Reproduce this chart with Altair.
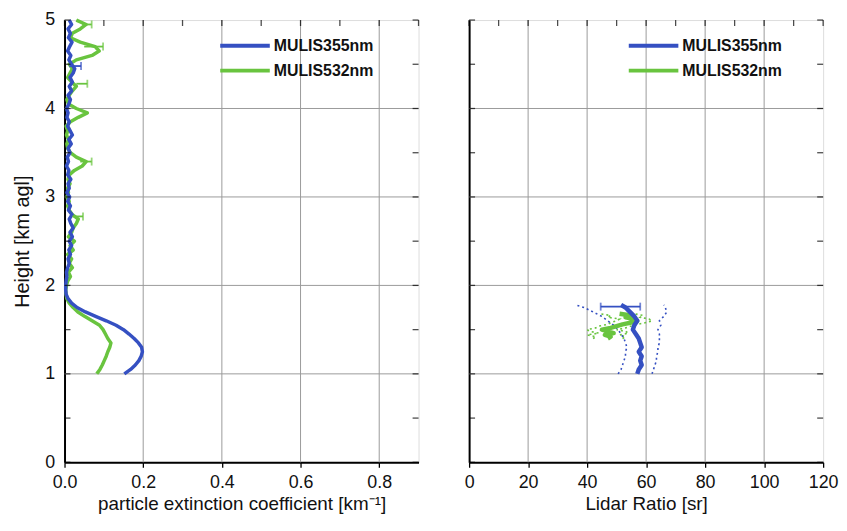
import altair as alt
import pandas as pd

SERIES = ["MULIS355nm", "MULIS532nm"]
COLORS = ["#3550c2", "#69c43f"]

# ---------------- left panel: extinction profiles ----------------
height_km = [1.00, 1.05, 1.10, 1.15, 1.20, 1.25, 1.30, 1.35, 1.40, 1.45,
             1.50, 1.55, 1.60, 1.65, 1.70, 1.75, 1.80, 1.85, 1.90, 1.95,
             2.00, 2.05, 2.10, 2.15, 2.20, 2.25, 2.30, 2.35, 2.40, 2.45,
             2.50, 2.55, 2.60, 2.65, 2.70, 2.75, 2.80, 2.85, 2.90, 2.95,
             3.00, 3.05, 3.10, 3.15, 3.20, 3.25, 3.30, 3.35, 3.40, 3.45,
             3.50, 3.55, 3.60, 3.65, 3.70, 3.75, 3.80, 3.85, 3.90, 3.95,
             4.00, 4.05, 4.10, 4.15, 4.20, 4.25, 4.30, 4.35, 4.40, 4.45,
             4.50, 4.55, 4.60, 4.65, 4.70, 4.75, 4.80, 4.85, 4.90, 4.95,
             5.00]
ext355 = [0.152, 0.168, 0.180, 0.189, 0.195, 0.198, 0.196, 0.188, 0.177, 0.164,
          0.150, 0.131, 0.106, 0.079, 0.053, 0.032, 0.018, 0.009, 0.004, 0.003,
          0.003, 0.004, 0.006, 0.005, 0.008, 0.012, 0.009, 0.015, 0.011, 0.018,
          0.012, 0.020, 0.014, 0.022, 0.016, 0.012, 0.019, 0.010, 0.015, 0.008,
          0.013, 0.006, 0.012, 0.009, 0.016, 0.008, 0.011, 0.005, 0.010, 0.007,
          0.014, 0.009, 0.017, 0.011, 0.020, 0.014, 0.008, 0.012, 0.006, 0.009,
          0.005, 0.011, 0.015, 0.009, 0.018, 0.012, 0.020, 0.014, 0.022, 0.026,
          0.018, 0.011, 0.016, 0.008, 0.013, 0.019, 0.010, 0.015, 0.009, 0.018,
          0.012]
ext532 = [0.082, 0.090, 0.096, 0.101, 0.106, 0.110, 0.115, 0.118, 0.110, 0.104,
          0.098, 0.089, 0.070, 0.051, 0.034, 0.022, 0.012, 0.006, 0.004, 0.003,
          0.005, 0.008, 0.015, 0.010, 0.020, 0.012, 0.018, 0.008, 0.022, 0.014,
          0.025, 0.010, 0.018, 0.022, 0.030, 0.035, 0.020, 0.012, 0.008, 0.012,
          0.006, 0.010, 0.008, 0.014, 0.009, 0.012, 0.025, 0.045, 0.055, 0.030,
          0.015, 0.008, 0.006, 0.010, 0.005, 0.008, 0.004, 0.015, 0.035, 0.058,
          0.030, 0.010, 0.006, 0.012, 0.020, 0.030, 0.018, 0.008, 0.014, 0.020,
          0.012, 0.030, 0.070, 0.088, 0.078, 0.040, 0.015, 0.020, 0.040, 0.055,
          0.030]

err_series = ["MULIS532nm", "MULIS532nm", "MULIS532nm", "MULIS532nm", "MULIS532nm", "MULIS355nm"]
err_h = [4.70, 4.95, 3.40, 4.28, 2.78, 4.48]
err_lo = [0.050, 0.045, 0.040, 0.030, 0.020, 0.012]
err_hi = [0.098, 0.069, 0.069, 0.058, 0.047, 0.042]

# ---------------- right panel: lidar ratio ----------------
lr_h355 = [1.00, 1.05, 1.10, 1.15, 1.20, 1.25, 1.30, 1.35, 1.40, 1.45,
           1.50, 1.55, 1.60, 1.65, 1.70, 1.75, 1.78]
lr355 = [57.0, 57.5, 58.5, 58.0, 58.5, 57.5, 58.5, 58.0, 57.5, 56.5,
         55.5, 56.0, 57.0, 56.0, 54.5, 53.0, 51.5]
lr355_hi = [62.0, 62.5, 63.0, 63.5, 63.5, 64.0, 64.0, 64.5, 64.5, 64.5,
            64.0, 65.0, 64.5, 66.0, 67.0, 66.5, 66.0]
lr355_lo = [50.5, 51.5, 52.0, 52.5, 53.0, 53.0, 53.5, 53.0, 52.5, 51.5,
            50.5, 49.0, 47.0, 45.0, 42.0, 39.0, 36.0]
lr_h532 = [1.40, 1.42, 1.44, 1.46, 1.48, 1.50, 1.52, 1.54, 1.56, 1.58,
           1.60, 1.62, 1.64, 1.66, 1.68]
lr532 = [47, 48, 46, 49, 47, 45, 48, 50, 52, 55, 57, 56, 53, 55, 51]
lr532_lo = [42, 43, 40, 44, 41, 40, 43, 44, 47, 48, 50, 51, 47, 48, 44]
lr532_hi = [52, 53, 51, 54, 53, 50, 53, 55, 57, 60, 62, 61, 58, 59, 56]
lr_err_h = [1.76]
lr_err_lo = [44.6]
lr_err_hi = [58.0]
lr_err_series = ["MULIS355nm"]

# ---------------- axis ticks ----------------
ext_ticks = [0.0, 0.1, 0.2, 0.3, 0.4, 0.5, 0.6, 0.7, 0.8, 0.9]
ext_grid = [0.2, 0.4, 0.6, 0.8]
lr_ticks = [0, 10, 20, 30, 40, 50, 60, 70, 80, 90, 100, 110, 120]
lr_grid = [20, 40, 60, 80, 100]
h_ticks = [0, 0.5, 1, 1.5, 2, 2.5, 3, 3.5, 4, 4.5, 5]
h_major = [0, 1, 2, 3, 4, 5]
h_grid = [1, 2, 3, 4]

W, H = 357, 446
FONT = "Liberation Sans, Arial, sans-serif"

prof = pd.DataFrame({
    "h": height_km * 2,
    "v": ext355 + ext532,
    "s": ["MULIS355nm"] * len(height_km) + ["MULIS532nm"] * len(height_km),
})
errs = pd.DataFrame({"h": err_h, "lo": err_lo, "hi": err_hi, "s": err_series})

lr_main = pd.DataFrame({
    "h": lr_h355 + lr_h532,
    "v": lr355 + lr532,
    "s": ["MULIS355nm"] * len(lr_h355) + ["MULIS532nm"] * len(lr_h532),
})
lr_bounds = pd.DataFrame({
    "h": lr_h355 + lr_h355 + lr_h532 + lr_h532,
    "v": lr355_hi + lr355_lo + lr532_hi + lr532_lo,
    "s": ["MULIS355nm"] * (2 * len(lr_h355)) + ["MULIS532nm"] * (2 * len(lr_h532)),
    "b": ["hi355"] * len(lr_h355) + ["lo355"] * len(lr_h355)
         + ["hi532"] * len(lr_h532) + ["lo532"] * len(lr_h532),
})
lr_errs = pd.DataFrame({"h": lr_err_h, "lo": lr_err_lo, "hi": lr_err_hi, "s": lr_err_series})

color_scale = alt.Scale(domain=SERIES, range=COLORS)
ycommon = alt.Scale(domain=[0, 5], nice=False, zero=False)
series_color = dict(zip(SERIES, COLORS))


def panel(xdomain, xticks, xgrid, xtitle, label_expr, show_y, main_df, bounds_df, err_df,
          main_width, legend_x, both_caps):
    xs = alt.Scale(domain=xdomain, nice=False, zero=False)
    xaxis = alt.Axis(values=xticks, labelExpr=label_expr, title=xtitle, grid=False,
                     tickSize=5, tickColor="black", tickWidth=1.3, domainColor="black",
                     domainWidth=2, labelFontSize=18, labelFont=FONT, labelColor="#111",
                     titleFontSize=19, titleFont=FONT, titleFontWeight="normal",
                     titleColor="#111", labelPadding=6, titlePadding=4, labelFlush=False)
    if show_y:
        yaxis = alt.Axis(values=h_major, format="d", title="Height [km agl]", grid=False,
                         ticks=False, domainColor="black", domainWidth=2, labelFontSize=18,
                         labelFont=FONT, labelColor="#111", labelPadding=10,
                         titleFontSize=20, titleFont=FONT, titleFontWeight="normal",
                         titleColor="#111", titlePadding=12)
    else:
        yaxis = alt.Axis(labels=False, ticks=False, title=None, grid=False,
                         domainColor="black", domainWidth=2)

    gridx = alt.Chart(pd.DataFrame({"g": xgrid})).mark_rule(color="#9a9a9a", strokeWidth=1).encode(
        x=alt.X("g:Q", scale=xs, axis=xaxis))
    gridy = alt.Chart(pd.DataFrame({"g": h_grid})).mark_rule(color="#9a9a9a", strokeWidth=1).encode(
        y=alt.Y("g:Q", scale=ycommon, axis=yaxis))
    top_ticks = alt.Chart(pd.DataFrame({"t": xticks})).mark_tick(
        orient="vertical", size=6, thickness=1.3, color="black", yOffset=3).encode(
        x=alt.X("t:Q", scale=xs), y=alt.value(0))
    left_ticks = alt.Chart(pd.DataFrame({"t": h_ticks})).mark_tick(
        orient="horizontal", size=6, thickness=1.3, color="black", xOffset=3).encode(
        y=alt.Y("t:Q", scale=ycommon), x=alt.value(0))
    right_ticks = alt.Chart(pd.DataFrame({"t": h_ticks})).mark_tick(
        orient="horizontal", size=6, thickness=1.3, color="black", xOffset=-3).encode(
        y=alt.Y("t:Q", scale=ycommon), x=alt.value(W))

    legend = alt.Legend(
        title=None, orient="none", legendX=legend_x, legendY=18,
        symbolType="M-5,0H5", symbolSize=100, symbolStrokeWidth=4,
        labelFont=FONT, labelFontSize=16, labelFontWeight="bold",
        labelColor="#111", rowPadding=9, labelOffset=21)

    layers = [gridx, gridy]
    main_layers = []
    for s in ["MULIS532nm", "MULIS355nm"]:
        main_layers.append(alt.Chart(main_df).transform_filter(alt.datum.s == s).mark_line(
            strokeWidth=main_width, strokeJoin="round").encode(
            x=alt.X("v:Q", scale=xs), y=alt.Y("h:Q", scale=ycommon),
            color=alt.Color("s:N", scale=color_scale, legend=legend),
            order="h:Q"))
    if bounds_df is not None:
        for s in ["MULIS532nm", "MULIS355nm"]:
            layers.append(alt.Chart(bounds_df).transform_filter(alt.datum.s == s).mark_line(
                strokeWidth=1.6, strokeDash=[2, 3], color=series_color[s]).encode(
                x=alt.X("v:Q", scale=xs), y=alt.Y("h:Q", scale=ycommon),
                detail="b:N", order="h:Q"))
    layers += main_layers
    if err_df is not None:
        for s in SERIES:
            sub = err_df[err_df["s"] == s]
            if len(sub) == 0:
                continue
            c = series_color[s]
            layers.append(alt.Chart(sub).mark_rule(strokeWidth=1.8, color=c).encode(
                x=alt.X("lo:Q", scale=xs), x2="hi:Q", y=alt.Y("h:Q", scale=ycommon)))
            layers.append(alt.Chart(sub).mark_tick(orient="vertical", size=8, thickness=1.8,
                                                   color=c).encode(
                x=alt.X("hi:Q", scale=xs), y=alt.Y("h:Q", scale=ycommon)))
            if both_caps:
                layers.append(alt.Chart(sub).mark_tick(orient="vertical", size=8, thickness=1.8,
                                                       color=c).encode(
                    x=alt.X("lo:Q", scale=xs), y=alt.Y("h:Q", scale=ycommon)))
    layers += [top_ticks, left_ticks, right_ticks]
    return alt.layer(*layers).properties(width=W, height=H)


left = panel([0, 0.9], ext_ticks, ext_grid, "particle extinction coefficient [km\u207b\u00b9]",
             "round(datum.value*10) % 2 == 0 ? format(datum.value, '.1f') : ''",
             True, prof, None, errs, 3.5, 174, False)
right = panel([0, 120], lr_ticks, lr_grid, "Lidar Ratio [sr]",
              "datum.value % 20 == 0 ? format(datum.value, 'd') : ''",
              False, lr_main, lr_bounds, lr_errs, 4.5, 178, True)

chart = alt.hconcat(left, right, spacing=43).resolve_scale(color="independent").resolve_legend(
    color="independent").properties(
    padding={"left": 4, "top": 0, "right": 0, "bottom": 0}
).configure_view(stroke="black", strokeWidth=1.5).configure(background="white")

chart.save("out.html", embed_options={"renderer": "svg", "actions": False})
